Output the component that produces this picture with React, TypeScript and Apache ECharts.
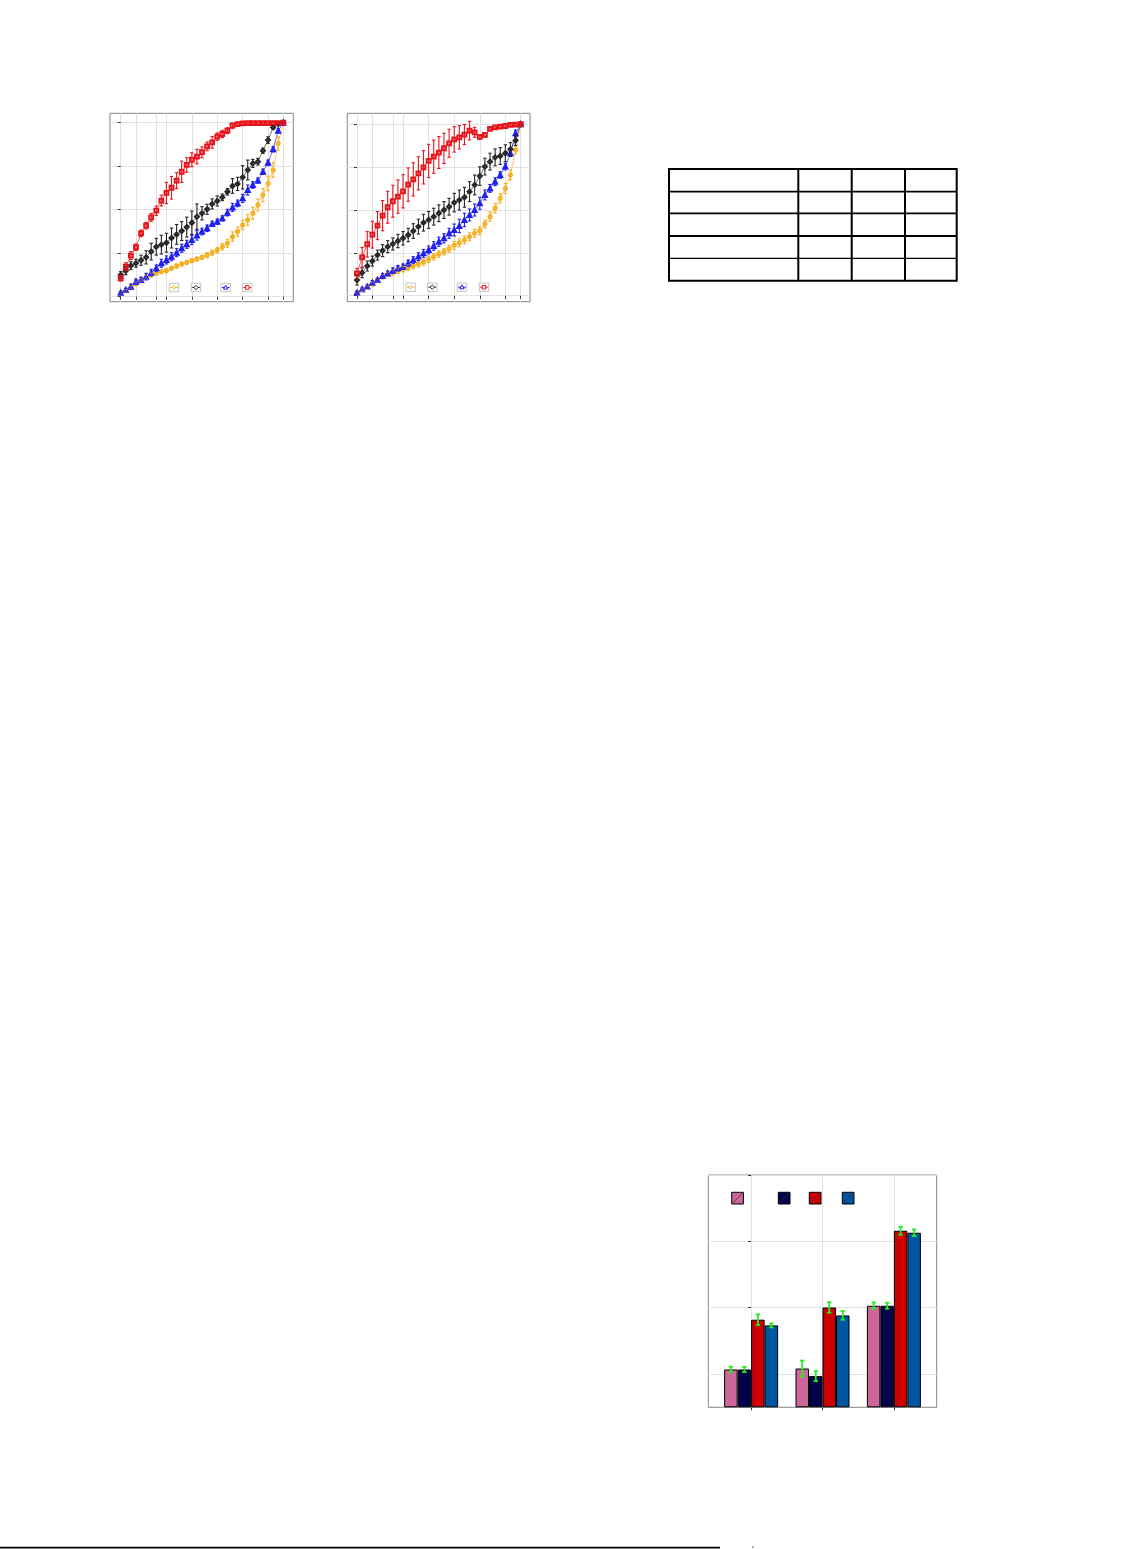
import React, { useEffect, useRef } from "react";
import * as echarts from "echarts";

// ---------- data ----------
const STEPS = [0, 1, 2, 3, 4, 5, 6, 7, 8, 9, 10, 11, 12, 13, 14, 15, 16, 17, 18, 19, 20, 21, 22, 23, 24, 25, 26, 27, 28, 29, 30, 31, 32];
const X_TICKS = [0, 3, 7, 9, 14, 19, 24, 29, 32];
const Y_TICKS = [0, 0.25, 0.5, 0.75, 1];

// left panel
const L_YELLOW = [0.023, 0.034, 0.054, 0.073, 0.096, 0.111, 0.125, 0.134, 0.144, 0.149, 0.163, 0.176, 0.188, 0.197, 0.207, 0.216, 0.226, 0.239, 0.253, 0.268, 0.287, 0.307, 0.345, 0.374, 0.412, 0.441, 0.479, 0.527, 0.584, 0.651, 0.728, 0.881, 1.0];
const L_YELLOW_ERR = [0.006, 0.008, 0.01, 0.01, 0.01, 0.011, 0.011, 0.011, 0.011, 0.011, 0.011, 0.011, 0.011, 0.011, 0.011, 0.011, 0.011, 0.015, 0.015, 0.015, 0.019, 0.023, 0.027, 0.027, 0.027, 0.031, 0.034, 0.034, 0.038, 0.042, 0.042, 0.038, 0.004];
const L_BLACK = [0.125, 0.149, 0.178, 0.192, 0.209, 0.226, 0.259, 0.287, 0.299, 0.31, 0.337, 0.358, 0.377, 0.4, 0.425, 0.46, 0.479, 0.502, 0.533, 0.55, 0.571, 0.603, 0.636, 0.648, 0.686, 0.728, 0.766, 0.776, 0.839, 0.9, 0.973, 0.992, 1.0];
const L_BLACK_ERR = [0.019, 0.023, 0.023, 0.023, 0.029, 0.038, 0.048, 0.048, 0.054, 0.054, 0.057, 0.057, 0.054, 0.057, 0.067, 0.073, 0.038, 0.029, 0.029, 0.029, 0.019, 0.019, 0.042, 0.038, 0.067, 0.057, 0.023, 0.019, 0.015, 0.019, 0.01, 0.006, 0.004];
const L_BLUE = [0.023, 0.038, 0.057, 0.086, 0.096, 0.115, 0.138, 0.163, 0.192, 0.211, 0.23, 0.253, 0.278, 0.301, 0.326, 0.352, 0.374, 0.393, 0.418, 0.431, 0.45, 0.483, 0.513, 0.536, 0.565, 0.613, 0.642, 0.667, 0.718, 0.77, 0.847, 0.954, 1.0];
const L_BLUE_ERR = [0.006, 0.01, 0.015, 0.015, 0.015, 0.019, 0.019, 0.019, 0.023, 0.023, 0.023, 0.023, 0.023, 0.023, 0.027, 0.027, 0.019, 0.019, 0.015, 0.015, 0.015, 0.019, 0.023, 0.019, 0.023, 0.029, 0.019, 0.015, 0.015, 0.015, 0.015, 0.011, 0.004];
const L_RED = [0.105, 0.172, 0.236, 0.284, 0.364, 0.408, 0.456, 0.494, 0.552, 0.596, 0.626, 0.667, 0.718, 0.757, 0.787, 0.805, 0.83, 0.864, 0.887, 0.92, 0.935, 0.954, 0.983, 0.992, 0.996, 0.998, 0.998, 0.998, 0.998, 0.998, 0.998, 0.998, 1.0];
const L_RED_ERR = [0.015, 0.023, 0.023, 0.019, 0.019, 0.019, 0.023, 0.027, 0.031, 0.061, 0.065, 0.046, 0.061, 0.042, 0.04, 0.042, 0.031, 0.025, 0.033, 0.021, 0.021, 0.017, 0.015, 0.008, 0.006, 0.006, 0.006, 0.006, 0.006, 0.006, 0.006, 0.006, 0.004];

// right panel
const R_YELLOW = [0.018, 0.033, 0.049, 0.068, 0.091, 0.111, 0.124, 0.136, 0.146, 0.154, 0.163, 0.173, 0.185, 0.196, 0.212, 0.228, 0.243, 0.257, 0.274, 0.294, 0.309, 0.325, 0.344, 0.364, 0.379, 0.418, 0.461, 0.51, 0.568, 0.626, 0.704, 0.85, 1.0];
const R_YELLOW_ERR = [0.006, 0.008, 0.01, 0.012, 0.012, 0.014, 0.014, 0.016, 0.016, 0.016, 0.016, 0.016, 0.018, 0.018, 0.019, 0.019, 0.019, 0.019, 0.021, 0.023, 0.023, 0.023, 0.023, 0.023, 0.023, 0.023, 0.027, 0.027, 0.027, 0.029, 0.029, 0.023, 0.004];
const R_BLACK = [0.091, 0.134, 0.173, 0.202, 0.237, 0.263, 0.286, 0.302, 0.319, 0.335, 0.354, 0.377, 0.403, 0.426, 0.442, 0.461, 0.481, 0.5, 0.519, 0.543, 0.558, 0.574, 0.607, 0.646, 0.698, 0.753, 0.782, 0.807, 0.815, 0.831, 0.854, 0.905, 1.0];
const R_BLACK_ERR = [0.029, 0.029, 0.029, 0.029, 0.029, 0.035, 0.035, 0.035, 0.039, 0.039, 0.039, 0.043, 0.043, 0.049, 0.049, 0.049, 0.049, 0.049, 0.049, 0.054, 0.058, 0.058, 0.058, 0.058, 0.054, 0.049, 0.049, 0.049, 0.049, 0.049, 0.039, 0.029, 0.004];
const R_BLUE = [0.018, 0.037, 0.053, 0.076, 0.091, 0.115, 0.13, 0.146, 0.16, 0.169, 0.189, 0.208, 0.228, 0.247, 0.267, 0.29, 0.315, 0.335, 0.364, 0.383, 0.407, 0.442, 0.471, 0.5, 0.539, 0.588, 0.626, 0.665, 0.704, 0.753, 0.831, 0.947, 1.0];
const R_BLUE_ERR = [0.006, 0.008, 0.01, 0.012, 0.012, 0.014, 0.014, 0.016, 0.016, 0.016, 0.019, 0.019, 0.023, 0.023, 0.023, 0.025, 0.027, 0.027, 0.029, 0.035, 0.039, 0.039, 0.035, 0.035, 0.035, 0.029, 0.023, 0.023, 0.019, 0.019, 0.019, 0.019, 0.004];
const R_RED = [0.13, 0.224, 0.3, 0.356, 0.409, 0.467, 0.516, 0.551, 0.578, 0.609, 0.648, 0.679, 0.714, 0.749, 0.786, 0.811, 0.835, 0.86, 0.889, 0.912, 0.924, 0.94, 0.963, 0.953, 0.926, 0.938, 0.973, 0.982, 0.986, 0.99, 0.996, 0.998, 1.0];
const R_RED_ERR = [0.029, 0.058, 0.074, 0.078, 0.082, 0.088, 0.093, 0.093, 0.097, 0.097, 0.097, 0.097, 0.097, 0.097, 0.097, 0.097, 0.093, 0.088, 0.082, 0.074, 0.068, 0.058, 0.054, 0.029, 0.012, 0.012, 0.008, 0.008, 0.008, 0.008, 0.008, 0.006, 0.004];

// bar panel
const BAR_X = [0, 1, 2];
const BAR_TICKS_X = [0, 1, 2];
const BAR_TICKS_Y = [0.25, 0.75, 1.25, 1.75];
const BAR_PINK = [0.285, 0.292, 0.765];
const BAR_PINK_ERR = [0.021, 0.06, 0.025];
const BAR_NAVY = [0.285, 0.235, 0.765];
const BAR_NAVY_ERR = [0.02, 0.0375, 0.0225];
const BAR_RED = [0.66, 0.752, 1.33];
const BAR_RED_ERR = [0.04, 0.04, 0.03];
const BAR_BLUE = [0.617, 0.692, 1.315];
const BAR_BLUE_ERR = [0.015, 0.0325, 0.025];

// ---------- styles ----------
const C_YELLOW = "#f4b021";
const C_BLACK = "#262626";
const C_BLUE = "#1f1fee";
const C_RED = "#e8141b";
const C_PINK = "#cd6699";
const C_NAVY = "#02024a";
const C_BRED = "#cc0000";
const C_BBLUE = "#0055a0";
const C_ERR = "#22ee22";
const GRID_LINE = "#e2e2e2";
const FRAME = "#858585";
const BAR_W = 13.5;

function lineSeries(gi: number, color: string, symbol: string, size: number, values: number[]) {
  return {
    type: "line",
    xAxisIndex: gi,
    yAxisIndex: gi,
    data: STEPS.map((s, i) => [s, values[i]]),
    symbol,
    symbolSize: size,
    showSymbol: true,
    lineStyle: { color, width: 1, opacity: 0.65 },
    itemStyle: { color, borderWidth: 0.75 },
    z: 3,
    silent: true,
  };
}

function errSeries(gi: number, color: string, values: number[], errs: number[]) {
  return {
    type: "custom",
    xAxisIndex: gi,
    yAxisIndex: gi,
    data: STEPS.map((s, i) => [s, values[i] - errs[i], values[i] + errs[i]]),
    encode: { x: 0, y: [1, 2] },
    z: 4,
    silent: true,
    renderItem: (_p: any, api: any) => {
      const lo = api.coord([api.value(0), api.value(1)]);
      const hi = api.coord([api.value(0), api.value(2)]);
      const style = { stroke: color, lineWidth: 1.1 };
      const c = 1.7;
      return {
        type: "group",
        children: [
          { type: "line", shape: { x1: lo[0], y1: lo[1], x2: hi[0], y2: hi[1] }, style },
          { type: "line", shape: { x1: lo[0] - c, y1: lo[1], x2: lo[0] + c, y2: lo[1] }, style },
          { type: "line", shape: { x1: hi[0] - c, y1: hi[1], x2: hi[0] + c, y2: hi[1] }, style },
        ],
      };
    },
  };
}

function barSeries(color: string, values: number[]) {
  return {
    type: "bar",
    xAxisIndex: 2,
    yAxisIndex: 2,
    data: BAR_X.map((x, i) => [x, values[i]]),
    barWidth: BAR_W,
    barGap: "0%",
    itemStyle: { color, borderColor: "#000", borderWidth: 1 },
    z: 3,
    silent: true,
  };
}

function barErrSeries(k: number, values: number[], errs: number[]) {
  return {
    type: "custom",
    xAxisIndex: 2,
    yAxisIndex: 2,
    data: BAR_X.map((x, i) => [x, values[i] - errs[i], values[i] + errs[i]]),
    encode: { x: 0, y: [1, 2] },
    z: 5,
    silent: true,
    renderItem: (_p: any, api: any) => {
      const lo = api.coord([api.value(0), api.value(1)]);
      const hi = api.coord([api.value(0), api.value(2)]);
      const x = lo[0] + (k - 1.5) * BAR_W;
      const style = { stroke: C_ERR, lineWidth: 1.8 };
      const c = 2.2;
      return {
        type: "group",
        children: [
          { type: "line", shape: { x1: x, y1: lo[1], x2: x, y2: hi[1] }, style },
          { type: "line", shape: { x1: x - c, y1: lo[1], x2: x + c, y2: lo[1] }, style },
          { type: "line", shape: { x1: x - c, y1: hi[1], x2: x + c, y2: hi[1] }, style },
        ],
      };
    },
  };
}

function valueAxis(gi: number, min: number, max: number, ticks: number[]) {
  return {
    gridIndex: gi,
    type: "value",
    min,
    max,
    axisLine: { show: false },
    axisLabel: { show: false },
    axisTick: { show: true, length: 3, lineStyle: { color: "#333", width: 1 }, customValues: ticks },
    splitLine: { show: true, lineStyle: { color: GRID_LINE, width: 1 } },
  };
}

// legend key helpers (decoration)
function lineKey(cx: number, cy: number, color: string, shape: string) {
  const els: any[] = [
    { type: "rect", shape: { x: cx - 4.7, y: cy - 4.2, width: 9.4, height: 8.4 }, style: { fill: "#fff", stroke: "#c4c4c4", lineWidth: 1 } },
    { type: "line", shape: { x1: cx - 3.8, y1: cy, x2: cx + 3.8, y2: cy }, style: { stroke: color, lineWidth: 1 } },
  ];
  const st = { fill: "#fff", stroke: color, lineWidth: 1 };
  if (shape === "rect") els.push({ type: "rect", shape: { x: cx - 1.8, y: cy - 1.8, width: 3.6, height: 3.6 }, style: st });
  if (shape === "diamond") els.push({ type: "polygon", shape: { points: [[cx, cy - 2.2], [cx + 2.2, cy], [cx, cy + 2.2], [cx - 2.2, cy]] }, style: st });
  if (shape === "triangle") els.push({ type: "polygon", shape: { points: [[cx, cy - 2.3], [cx + 2.2, cy + 1.6], [cx - 2.2, cy + 1.6]] }, style: st });
  if (shape === "circle") els.push({ type: "circle", shape: { cx, cy, r: 1.5 }, style: st });
  return els;
}

function barKey(x: number, y: number, color: string) {
  const s = 11.7;
  return [
    { type: "rect", shape: { x, y, width: s, height: s }, style: { fill: color, stroke: "#000", lineWidth: 1 } },
    { type: "line", shape: { x1: x + 1, y1: y + s - 1, x2: x + s - 1, y2: y + 1 }, style: { stroke: "#333", lineWidth: 0.8 } },
  ];
}

function tableEls() {
  const L = 669, R = 956.7, T = 169, B = 280.7;
  const cols = [798.3, 851.7, 905];
  const rows = [191.7, 213.3, 236];
  const els: any[] = [
    { type: "rect", shape: { x: L, y: T, width: R - L, height: B - T }, style: { fill: "none", stroke: "#000", lineWidth: 2 } },
  ];
  cols.forEach((x) => els.push({ type: "line", shape: { x1: x, y1: T, x2: x, y2: B }, style: { stroke: "#000", lineWidth: 2 } }));
  rows.forEach((y) => els.push({ type: "line", shape: { x1: L, y1: y, x2: R, y2: y }, style: { stroke: "#000", lineWidth: 1.8 } }));
  els.push({ type: "line", shape: { x1: L, y1: 258.3, x2: R, y2: 258.3 }, style: { stroke: "#000", lineWidth: 1.2 } });
  return els;
}

function buildOption() {
  const graphics: any[] = [
    ...tableEls(),
    ...lineKey(174, 287.5, C_YELLOW, "circle"),
    ...lineKey(196, 287.5, C_BLACK, "diamond"),
    ...lineKey(225.7, 287.5, C_BLUE, "triangle"),
    ...lineKey(247.3, 287.5, C_RED, "rect"),
    ...lineKey(410.7, 287.2, C_YELLOW, "circle"),
    ...lineKey(432.3, 287.2, C_BLACK, "diamond"),
    ...lineKey(462, 287.2, C_BLUE, "triangle"),
    ...lineKey(484, 287.2, C_RED, "rect"),
    ...barKey(731.7, 1192.3, C_PINK),
    ...barKey(778.3, 1192.3, C_NAVY),
    ...barKey(809.3, 1192.3, C_BRED),
    ...barKey(842.3, 1192.3, C_BBLUE),
    { type: "line", shape: { x1: 0, y1: 1547.6, x2: 720, y2: 1547.6 }, style: { stroke: "#000", lineWidth: 1.6 } },
    { type: "rect", shape: { x: 752.5, y: 1546, width: 1, height: 2 }, style: { fill: "#666" } },
  ].map((g) => ({ ...g, silent: true, z: 100 }));

  return {
    animation: false,
    backgroundColor: "#fff",
    grid: [
      { left: 110, top: 113.3, width: 183.3, height: 188.4, show: true, borderColor: FRAME, borderWidth: 1, backgroundColor: "transparent", containLabel: false },
      { left: 347.3, top: 113.3, width: 182.7, height: 188.4, show: true, borderColor: FRAME, borderWidth: 1, backgroundColor: "transparent", containLabel: false },
      { left: 708.3, top: 1175, width: 228.4, height: 232.3, show: true, borderColor: FRAME, borderWidth: 1, backgroundColor: "transparent", containLabel: false },
    ],
    xAxis: [
      valueAxis(0, -2.11, 33.97, X_TICKS),
      valueAxis(1, -1.9, 33.82, X_TICKS),
      valueAxis(2, -0.6, 2.6, BAR_TICKS_X),
    ],
    yAxis: [
      valueAxis(0, -0.029, 1.054, Y_TICKS),
      valueAxis(1, -0.035, 1.064, Y_TICKS),
      valueAxis(2, 0, 1.75, BAR_TICKS_Y),
    ],
    graphic: graphics,
    series: [
      lineSeries(0, C_YELLOW, "emptyCircle", 3.2, L_YELLOW),
      lineSeries(0, C_BLUE, "emptyTriangle", 4, L_BLUE),
      lineSeries(0, C_BLACK, "emptyDiamond", 4, L_BLACK),
      lineSeries(0, C_RED, "emptyRect", 3.8, L_RED),
      errSeries(0, C_YELLOW, L_YELLOW, L_YELLOW_ERR),
      errSeries(0, C_BLUE, L_BLUE, L_BLUE_ERR),
      errSeries(0, C_BLACK, L_BLACK, L_BLACK_ERR),
      errSeries(0, C_RED, L_RED, L_RED_ERR),
      lineSeries(1, C_YELLOW, "emptyCircle", 3.2, R_YELLOW),
      lineSeries(1, C_BLUE, "emptyTriangle", 4, R_BLUE),
      lineSeries(1, C_BLACK, "emptyDiamond", 4, R_BLACK),
      lineSeries(1, C_RED, "emptyRect", 3.8, R_RED),
      errSeries(1, C_YELLOW, R_YELLOW, R_YELLOW_ERR),
      errSeries(1, C_BLUE, R_BLUE, R_BLUE_ERR),
      errSeries(1, C_BLACK, R_BLACK, R_BLACK_ERR),
      errSeries(1, C_RED, R_RED, R_RED_ERR),
      barSeries(C_PINK, BAR_PINK),
      barSeries(C_NAVY, BAR_NAVY),
      barSeries(C_BRED, BAR_RED),
      barSeries(C_BBLUE, BAR_BLUE),
      barErrSeries(0, BAR_PINK, BAR_PINK_ERR),
      barErrSeries(1, BAR_NAVY, BAR_NAVY_ERR),
      barErrSeries(2, BAR_RED, BAR_RED_ERR),
      barErrSeries(3, BAR_BLUE, BAR_BLUE_ERR),
    ],
  };
}

export default function App() {
  const ref = useRef<HTMLDivElement>(null);
  useEffect(() => {
    if (!ref.current) return;
    const chart = echarts.init(ref.current, undefined, { renderer: "svg" });
    chart.setOption(buildOption() as any);
    return () => chart.dispose();
  }, []);
  return <div ref={ref} style={{ position: "absolute", left: 0, top: 0, width: 1135, height: 1549 }} />;
}
